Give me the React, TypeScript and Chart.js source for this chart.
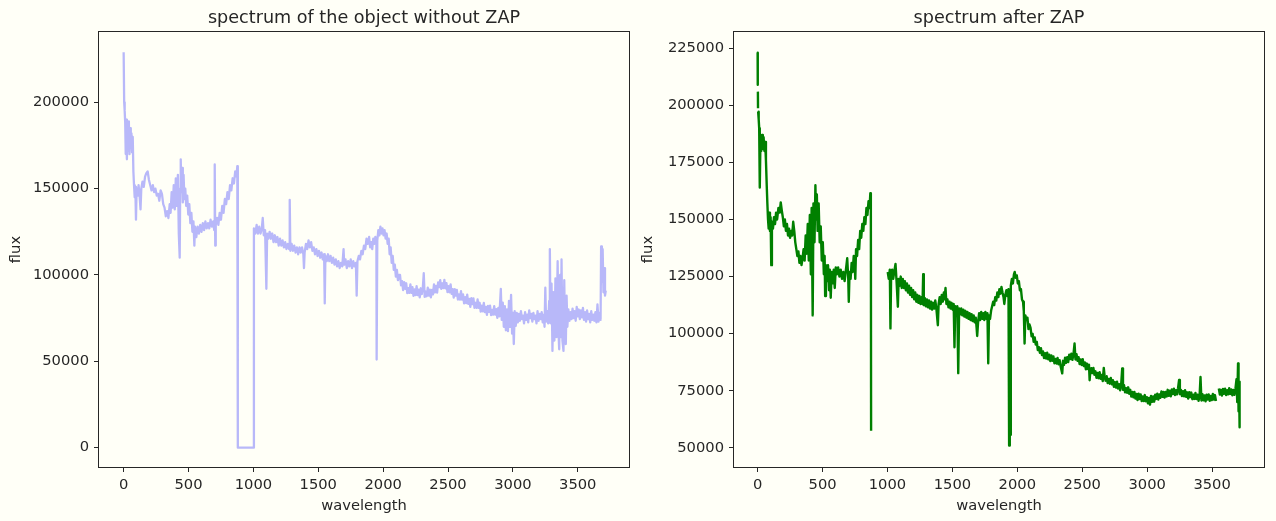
import { useEffect, useRef } from 'react';
import { Chart, registerables } from 'chart.js';

Chart.register(...registerables);

// Spectrum before ZAP: [wavelength index, flux]
const rawSpectrum: [number, number | null][] = [
  [0, 229000], [4, 200000], [8, 195000], [12, 188000], [16, 170000], [20, 190000], [25, 167000], [30, 186000],
  [35, 172000], [40, 189000], [45, 170000], [50, 185000], [55, 176000], [60, 182000], [65, 171000], [70, 180000],
  [75, 160000], [80, 152000], [85, 145000], [90, 151000], [95, 132000], [100, 150000], [108, 146000], [115, 152000],
  [122, 147000], [130, 138000], [136, 150000], [145, 154000], [155, 151000], [165, 157000], [175, 159000], [185, 160000],
  [195, 155000], [205, 152000], [215, 149000], [225, 152000], [235, 148000], [245, 150000], [255, 146000], [265, 147000],
  [275, 143000], [285, 149000], [295, 147000], [305, 141000], [315, 139000], [325, 134000], [335, 137000], [345, 133000],
  [355, 141000], [362, 136000], [370, 148000], [378, 139000], [386, 152000], [394, 138000], [402, 156000], [410, 140000],
  [418, 158000], [425, 124000], [432, 110000], [436, 150000], [440, 167000], [445, 148000], [450, 162000], [456, 142000],
  [462, 158000], [468, 144000], [475, 150000], [482, 140000], [490, 146000], [498, 135000], [506, 141000], [514, 130000],
  [522, 136000], [530, 125000], [538, 131000], [545, 117000], [550, 128000], [560, 122000], [570, 128000], [580, 124000],
  [590, 129000], [600, 125000], [610, 130000], [620, 126000], [630, 131000], [640, 127000], [650, 130000], [660, 127000],
  [670, 132000], [680, 128000], [690, 131000], [698, 126000], [702, 164000], [706, 117000], [710, 129000], [720, 133000],
  [730, 129000], [740, 136000], [750, 132000], [760, 140000], [770, 136000], [780, 144000], [790, 141000], [800, 148000],
  [810, 144000], [820, 152000], [830, 149000], [840, 156000], [850, 153000], [860, 160000], [870, 157000], [876, 163000],
  [880, 160000], [880, 0], [1004, 0],
  [1004, 127000], [1015, 124000], [1025, 129000], [1035, 124000], [1045, 128000], [1055, 124000], [1065, 127000], [1072, 133000],
  [1080, 123000], [1090, 126000], [1100, 92000], [1106, 124000], [1115, 121000], [1125, 125000], [1135, 121000], [1145, 124000],
  [1155, 119000], [1165, 123000], [1175, 119000], [1185, 122000], [1195, 117000], [1205, 121000], [1215, 117000], [1225, 120000],
  [1235, 116000], [1245, 119000], [1255, 115000], [1265, 118000], [1275, 115000], [1280, 143500], [1285, 114000], [1295, 118000],
  [1305, 114000], [1315, 117000], [1325, 113000], [1335, 116000], [1345, 112000], [1355, 116000], [1365, 113000], [1375, 116000],
  [1385, 112000], [1390, 104000], [1395, 113000], [1405, 118000], [1415, 115000], [1425, 120000], [1435, 116000], [1445, 119000],
  [1455, 114000], [1465, 116000], [1475, 112000], [1485, 115000], [1495, 111000], [1505, 114000], [1515, 110000], [1525, 113000],
  [1535, 109000], [1545, 112000], [1550, 83500], [1555, 111000], [1565, 108000], [1575, 112000], [1585, 108000], [1595, 111000],
  [1605, 107000], [1615, 110000], [1625, 106000], [1635, 109000], [1645, 105000], [1655, 108000], [1665, 104000], [1675, 107000],
  [1685, 105000], [1695, 115000], [1700, 106000], [1710, 109000], [1720, 104000], [1730, 108000], [1740, 105000], [1750, 109000],
  [1760, 104000], [1770, 108000], [1780, 105000], [1790, 107000], [1796, 88000], [1802, 108000], [1812, 111000], [1822, 109000],
  [1832, 114000], [1842, 112000], [1852, 117000], [1862, 115000], [1872, 121000], [1882, 118000], [1892, 122000], [1900, 116000],
  [1908, 119000], [1916, 115000], [1924, 121000], [1932, 118000], [1940, 122000], [1948, 119000], [1950, 51000], [1955, 120000],
  [1963, 126000], [1971, 123000], [1979, 128000], [1987, 124000], [1995, 127000], [2003, 123000], [2011, 126000], [2019, 121000],
  [2027, 124000], [2035, 118000], [2043, 121000], [2050, 112000], [2058, 116000], [2066, 107000], [2074, 111000], [2082, 103000],
  [2090, 106000], [2098, 99000], [2106, 103000], [2114, 97000], [2122, 100000],
  [2130, 100000], [2138, 94000], [2146, 96400], [2154, 91200], [2162, 95900], [2170, 92000], [2178, 95200], [2186, 89500],
  [2194, 92400], [2202, 89600], [2210, 94500], [2218, 89700], [2226, 92900], [2234, 87900], [2242, 91600], [2250, 88400],
  [2258, 93500], [2266, 88400], [2274, 91500], [2282, 87000], [2290, 92300], [2298, 89000], [2306, 92700], [2313, 101000],
  [2320, 87300], [2328, 90400], [2336, 87700], [2344, 92700], [2352, 88000], [2360, 91500], [2368, 87100], [2376, 91400],
  [2384, 88800], [2392, 94500], [2400, 90000], [2408, 93700], [2416, 89800], [2424, 95700], [2432, 93000], [2440, 97000],
  [2448, 92000], [2456, 95200], [2464, 92400], [2472, 97200], [2480, 92300], [2488, 95300], [2496, 90100], [2504, 93500],
  [2512, 89900], [2520, 94600], [2528, 89100], [2536, 91800], [2544, 86900], [2552, 91800], [2560, 88100], [2568, 91400],
  [2576, 85800], [2584, 88700], [2592, 85800], [2600, 90600], [2608, 85700], [2616, 88700], [2624, 83600], [2632, 87100],
  [2640, 83700], [2648, 88600], [2656, 83300], [2664, 86200], [2672, 81500], [2680, 86600], [2688, 83100], [2696, 86500],
  [2704, 81000], [2712, 83900], [2720, 81000], [2728, 85800], [2736, 80900], [2744, 83900], [2752, 78800], [2760, 82300],
  [2768, 78900], [2776, 83800], [2784, 78500], [2792, 81500], [2800, 76900], [2808, 82100], [2816, 78700], [2824, 82200],
  [2832, 76800], [2840, 79800], [2848, 77000], [2856, 81900], [2864, 77100], [2872, 80200], [2880, 75200], [2888, 81000],
  [2896, 76000], [2907, 92000], [2914, 74000], [2922, 84000], [2930, 70000], [2938, 82000], [2946, 68000], [2954, 80000],
  [2962, 67500], [2970, 85000], [2978, 70000], [2986, 88500], [2994, 66000], [3000, 78000], [3007, 60000], [3014, 79000],
  [3022, 70500], [3030, 78000], [3038, 72500], [3046, 77500], [3054, 73500], [3062, 79000], [3070, 74500], [3078, 76500],
  [3086, 72000], [3094, 78500], [3102, 74000], [3110, 77000], [3118, 72500], [3126, 79500], [3134, 75000], [3142, 77500],
  [3150, 73000], [3158, 78000], [3166, 74500], [3174, 76500], [3182, 72000], [3190, 79000], [3198, 73500], [3206, 77500],
  [3214, 74500], [3222, 78500], [3230, 72500], [3238, 77000], [3244, 70000], [3250, 92600], [3256, 73000], [3264, 79000],
  [3272, 72000], [3280, 85000], [3285, 115000], [3290, 72000], [3298, 95000], [3305, 56000], [3312, 90000], [3320, 62000],
  [3328, 98000], [3336, 64000], [3345, 108000], [3352, 66000], [3357, 57000], [3364, 100000], [3370, 64000], [3375, 109000],
  [3382, 62000], [3390, 56000], [3396, 97000], [3402, 66000], [3408, 60000], [3414, 88000], [3420, 70000], [3428, 80000],
  [3436, 73500], [3444, 78500], [3452, 74500], [3460, 80500], [3468, 75000], [3476, 79000], [3484, 73500], [3492, 81500],
  [3500, 76000], [3508, 80000], [3516, 74500], [3524, 79500], [3532, 75500], [3540, 81000], [3548, 74000], [3556, 78500],
  [3564, 73000], [3572, 79500], [3580, 74500], [3588, 77500], [3596, 72500], [3604, 79000], [3612, 74000], [3620, 77000],
  [3628, 73500], [3636, 78500], [3644, 72500], [3652, 83000], [3660, 73000], [3668, 78000], [3676, 74000], [3680, 116500],
  [3686, 96000], [3692, 115000], [3698, 90000], [3704, 104000], [3710, 88000], [3716, 91000],
];

// Spectrum after ZAP: null entries are masked samples
const zapSpectrum: [number, number | null][] = [
  [0, 223000], [1, 209000], [1.5, null], [2, 206000], [3, 198700], [3.5, null], [4, 197200], [8, 194000],
  [12, 190000], [15, 185000], [18, 164000], [22, 186000], [28, 180000], [34, 187000], [40, 181000], [46, 186000],
  [52, 180000], [58, 184000], [64, 176000], [70, 165000], [75, 157000], [80, 150000], [85, 146000], [90, 153000],
  [95, 145000], [100, 151000], [105, 130000], [110, 149000], [118, 146000], [126, 151000], [134, 148000], [142, 153000],
  [150, 150000], [160, 155000], [170, 153000], [178, 157500], [186, 154000], [194, 151000], [202, 147000], [210, 150000],
  [218, 145000], [226, 148000], [234, 143000], [242, 146000], [250, 142000], [258, 145000], [266, 143000], [274, 149000],
  [282, 145000], [290, 140000], [298, 137000], [306, 134000], [314, 136000], [322, 131000], [330, 134000], [338, 130000],
  [346, 133000], [354, 137000], [362, 132000], [370, 143000], [378, 135000], [386, 148000], [394, 132000], [402, 152000],
  [410, 126000], [416, 155000], [424, 108000], [430, 157000], [438, 140000], [445, 165000], [450, 150000], [456, 161000],
  [462, 145000], [470, 157000], [478, 140000], [486, 147000], [494, 132000], [502, 140000], [510, 126000], [516, 134000],
  [520, 116500], [526, 130000], [534, 123000], [542, 130000], [550, 119000], [556, 128000], [563, 115700], [570, 127000],
  [578, 122000], [586, 128000], [594, 120000], [602, 129000], [610, 126000], [620, 129000], [630, 125000], [640, 128000],
  [650, 124000], [660, 127000], [670, 123000], [680, 128000], [690, 133000], [698, 124000], [702, 114000], [708, 127000],
  [716, 124000], [724, 131000], [732, 127000], [740, 134000], [748, 130000], [752, 124000], [758, 137000], [766, 134000],
  [774, 141000], [782, 137000], [790, 145000], [798, 142000], [806, 148000], [814, 145000], [822, 151000], [830, 148000],
  [838, 155000], [846, 152000], [854, 158000], [862, 155000], [868, 161500], [872, 158000], [874, 57500], [940, null],
  [1002, 127000], [1010, 124000], [1018, 128000], [1023, 102300], [1028, 125000], [1036, 128000], [1044, 124000], [1052, 127000],
  [1062, 130500], [1070, 123000], [1080, 111800], [1086, 124000], [1094, 121000], [1102, 125000], [1110, 120000], [1118, 124000],
  [1126, 120000], [1134, 123000], [1142, 119000], [1150, 122000], [1158, 118000], [1166, 121000], [1174, 117000], [1182, 120000],
  [1190, 116000], [1198, 119000], [1206, 115000], [1214, 118000], [1222, 114000], [1230, 117000], [1238, 113500], [1246, 116500],
  [1254, 113000], [1262, 116000], [1270, 113000], [1275, 126000], [1280, 112500], [1288, 115500], [1296, 112000], [1304, 115000],
  [1312, 111500], [1320, 114500], [1328, 111000], [1336, 114000], [1344, 110500], [1352, 113500], [1360, 111000], [1368, 114500],
  [1376, 111500], [1388, 103700], [1394, 113000], [1402, 116000], [1410, 113000], [1418, 117000], [1426, 114000], [1434, 118000],
  [1440, 115000], [1447, 120000], [1454, 113000], [1462, 115000], [1470, 111500], [1478, 114000], [1486, 111000], [1494, 113500],
  [1502, 110500], [1510, 113000], [1516, 94000], [1522, 112000], [1530, 109500], [1538, 112000], [1545, 82700], [1552, 111000],
  [1560, 108500], [1568, 111000], [1576, 108000], [1584, 110500], [1592, 107500], [1600, 110000], [1608, 107000], [1616, 109500],
  [1624, 106500], [1632, 109000], [1640, 106000], [1648, 108500], [1656, 105500], [1664, 108000], [1672, 105000], [1680, 107000],
  [1686, 103000], [1691, 99000], [1698, 105000], [1706, 109000], [1714, 106000], [1722, 109500], [1730, 106500], [1738, 109000],
  [1746, 106000], [1754, 109500], [1762, 106500], [1770, 109000], [1776, 87000], [1782, 108000], [1790, 106500], [1798, 110000],
  [1806, 112000], [1814, 114000], [1822, 112500], [1830, 116000], [1838, 114500], [1846, 118000], [1854, 116000], [1862, 119500],
  [1870, 117500], [1878, 120500], [1886, 118000], [1894, 116000], [1900, 113000], [1908, 117000], [1916, 119000], [1924, 116500],
  [1932, 119500], [1937, 51000], [1942, 118000], [1946, 55700], [1950, 121000], [1958, 124000], [1966, 122000], [1974, 126000],
  [1980, 127000], [1988, 124500], [1996, 125500], [2004, 122000], [2012, 123000], [2020, 119000], [2028, 119500], [2036, 115000],
  [2044, 114000], [2050, 110000], [2056, 95700], [2062, 108000], [2070, 106000], [2078, 107000], [2086, 102000], [2094, 104000],
  [2102, 102500], [2110, 98800], [2118, 99900], [2126, 96400], [2134, 98300], [2142, 95200], [2150, 96400], [2158, 92800],
  [2166, 94100], [2174, 91600], [2182, 93600], [2190, 90600], [2198, 92200], [2206, 89300], [2214, 91400], [2222, 89100],
  [2230, 91700], [2238, 88800], [2246, 90800], [2254, 88000], [2262, 90500], [2270, 88100], [2278, 90000], [2286, 87000],
  [2294, 88900], [2302, 86900], [2310, 89400], [2318, 86600], [2326, 88400], [2334, 85600], [2346, 82600], [2352, 88100],
  [2360, 86300], [2368, 89500], [2376, 87200], [2384, 89700], [2392, 87600], [2400, 90800], [2408, 88900], [2416, 91200],
  [2424, 88500], [2432, 90700], [2441, 95700], [2448, 88700], [2456, 91000], [2464, 88100], [2472, 89700], [2480, 86700],
  [2488, 88700], [2496, 86300], [2504, 88800], [2512, 85800], [2520, 87400], [2528, 84400], [2536, 86900], [2544, 84500],
  [2552, 86400], [2557, 79600], [2562, 83200], [2570, 84900], [2578, 82700], [2586, 85000], [2594, 82000], [2602, 83500],
  [2610, 80700], [2618, 82800], [2626, 80500], [2634, 83100], [2642, 80200], [2650, 81900], [2658, 79200], [2666, 85000],
  [2672, 81700], [2680, 79400], [2688, 81400], [2696, 78400], [2704, 80200], [2712, 78100], [2720, 80600], [2728, 77800],
  [2736, 79600], [2744, 76700], [2752, 78800], [2760, 76400], [2768, 79000], [2776, 76000], [2784, 77900], [2792, 75200],
  [2800, 77800], [2808, 84800], [2814, 75400], [2822, 77400], [2830, 74300], [2838, 76100], [2846, 74100], [2854, 76500],
  [2862, 73700], [2870, 75400], [2878, 72500], [2886, 74500], [2894, 72100], [2902, 74500], [2910, 71600], [2918, 73600],
  [2926, 70900], [2934, 73700], [2942, 71400], [2950, 73400], [2958, 70500], [2966, 72500], [2974, 70500], [2982, 73100],
  [2990, 70400], [2998, 72200], [3006, 69500], [3014, 71800], [3022, 68900], [3030, 72700], [3038, 70200], [3046, 72500],
  [3054, 70200], [3062, 73300], [3070, 71400], [3078, 73700], [3086, 71100], [3094, 73400], [3102, 71900], [3110, 74700],
  [3118, 72300], [3126, 74500], [3134, 72000], [3142, 74500], [3150, 72500], [3158, 75400], [3166, 72800], [3174, 75000],
  [3182, 72600], [3190, 75600], [3198, 73600], [3206, 75900], [3214, 73100], [3222, 75200], [3230, 73400], [3238, 76100],
  [3246, 79700], [3252, 73500], [3260, 75400], [3268, 72700], [3276, 74800], [3284, 72600], [3292, 75200], [3300, 72300],
  [3308, 74300], [3316, 71600], [3324, 74400], [3332, 72200], [3340, 74200], [3348, 71300], [3356, 73300], [3364, 71400],
  [3372, 74000], [3380, 71400], [3388, 73300], [3396, 70600], [3404, 72800], [3411, 81000], [3418, 70700], [3426, 73500],
  [3434, 70800], [3442, 72900], [3450, 70400], [3458, 73300], [3466, 71200], [3474, 73400], [3482, 70600], [3490, 72700],
  [3498, 70900], [3506, 73600], [3514, 71100], [3522, 73100], [3530, 70500], [3535, null], [3552, 76000], [3560, 73300],
  [3568, 75400], [3576, 72900], [3584, 75800], [3592, 73700], [3600, 75900], [3608, 73100], [3616, 75200], [3624, 73400],
  [3632, 76100], [3640, 73600], [3648, 75600], [3656, 73000], [3664, 75300], [3672, 73200], [3680, 75800], [3688, 80000],
  [3694, 70000], [3700, 87000], [3704, 66000], [3708, 79000], [3712, 59000],
];

const wavelengthTicks = [0, 500, 1000, 1500, 2000, 2500, 3000, 3500];
const rawFluxTicks = [0, 50000, 100000, 150000, 200000];
const zapFluxTicks = [50000, 75000, 100000, 125000, 150000, 175000, 200000, 225000];

const FONT = "'DejaVu Sans', 'Liberation Sans', sans-serif";
const INK = '#262626';
const PAGE_BG = '#fffff7';
const PANEL_W = 638;
const PANEL_H = 521;

// Draws the four spines around the plotting area
const framePlugin = {
  id: 'frame',
  afterDraw(chart: any) {
    const { ctx, chartArea: a } = chart;
    ctx.save();
    ctx.strokeStyle = INK;
    ctx.lineWidth = 1;
    ctx.strokeRect(Math.round(a.left) - 0.5, Math.round(a.top) - 0.5, Math.round(a.right - a.left) + 1, Math.round(a.bottom - a.top) + 1);
    ctx.restore();
  },
};

type PanelSpec = {
  title: string;
  spectrum: [number, number | null][];
  color: string;
  lineWidth: number;
  yTicks: number[];
  yMin: number;
  yMax: number;
  xMin: number;
  xMax: number;
  yAxisWidth: number;
  padRight: number;
  fluxTitlePad: number;
};

function buildConfig(p: PanelSpec): any {
  const tickFont = { family: FONT, size: 14.7 };
  return {
    type: 'line',
    data: {
      datasets: [
        {
          data: p.spectrum.map(([x, y]) => ({ x, y })),
          borderColor: p.color,
          borderWidth: p.lineWidth,
          borderJoinStyle: 'round',
          pointRadius: 0,
          fill: false,
          tension: 0,
          spanGaps: false,
        },
      ],
    },
    options: {
      animation: false,
      responsive: false,
      devicePixelRatio: 1,
      events: [],
      layout: { padding: { left: 0, right: p.padRight, top: 0, bottom: 0 } },
      plugins: {
        legend: { display: false },
        tooltip: { enabled: false },
        title: {
          display: true,
          text: p.title,
          fullSize: false,
          color: INK,
          font: { family: FONT, size: 17.6, weight: 'normal' },
          padding: { top: 7.4, bottom: 3.5 },
        },
      },
      scales: {
        x: {
          type: 'linear',
          min: p.xMin,
          max: p.xMax,
          afterFit: (s: any) => {
            s.height = 54;
          },
          afterBuildTicks: (s: any) => {
            s.ticks = wavelengthTicks.map((v) => ({ value: v }));
          },
          ticks: {
            autoSkip: false,
            maxRotation: 0,
            padding: 4,
            color: INK,
            font: tickFont,
            callback: (v: number) => String(v),
          },
          grid: { drawOnChartArea: false, tickLength: 5, color: INK },
          border: { display: false },
          title: {
            display: true,
            text: 'wavelength',
            color: INK,
            font: tickFont,
            padding: { top: 0, bottom: 5.7 },
          },
        },
        y: {
          type: 'linear',
          min: p.yMin,
          max: p.yMax,
          afterFit: (s: any) => {
            s.width = p.yAxisWidth;
          },
          afterBuildTicks: (s: any) => {
            s.ticks = p.yTicks.map((v) => ({ value: v }));
          },
          ticks: {
            autoSkip: false,
            padding: 5,
            color: INK,
            font: tickFont,
            callback: (v: number) => String(v),
          },
          grid: { drawOnChartArea: false, tickLength: 5, color: INK },
          border: { display: false },
          title: {
            display: true,
            text: 'flux',
            color: INK,
            font: tickFont,
            padding: { top: p.fluxTitlePad, bottom: 0 },
          },
        },
      },
    },
    plugins: [framePlugin],
  };
}

function SpectrumPanel({ spec, left }: { spec: PanelSpec; left: number }) {
  const ref = useRef<HTMLCanvasElement>(null);
  useEffect(() => {
    if (!ref.current) return;
    const chart = new Chart(ref.current, buildConfig(spec));
    return () => chart.destroy();
  }, [spec]);
  return (
    <canvas
      ref={ref}
      width={PANEL_W}
      height={PANEL_H}
      style={{ position: 'absolute', left, top: 0, width: PANEL_W, height: PANEL_H }}
    />
  );
}

const rawPanel: PanelSpec = {
  title: 'spectrum of the object without ZAP',
  spectrum: rawSpectrum,
  color: 'rgba(0, 0, 255, 0.28)',
  lineWidth: 2.3,
  yTicks: rawFluxTicks,
  yMin: -11200,
  yMax: 240700,
  xMin: -190,
  xMax: 3895,
  yAxisWidth: 99,
  padRight: 9,
  fluxTitlePad: 7,
};

const zapPanel: PanelSpec = {
  title: 'spectrum after ZAP',
  spectrum: zapSpectrum,
  color: '#008000',
  lineWidth: 2.4,
  yTicks: zapFluxTicks,
  yMin: 41600,
  yMax: 232100,
  xMin: -182,
  xMax: 3900,
  yAxisWidth: 96,
  padRight: 12,
  fluxTitlePad: 1.5,
};

export default function App() {
  return (
    <div
      style={{
        position: 'fixed',
        left: 0,
        top: 0,
        width: PANEL_W * 2,
        height: PANEL_H,
        background: PAGE_BG,
        overflow: 'hidden',
      }}
    >
      <SpectrumPanel spec={rawPanel} left={0} />
      <SpectrumPanel spec={zapPanel} left={PANEL_W} />
    </div>
  );
}
